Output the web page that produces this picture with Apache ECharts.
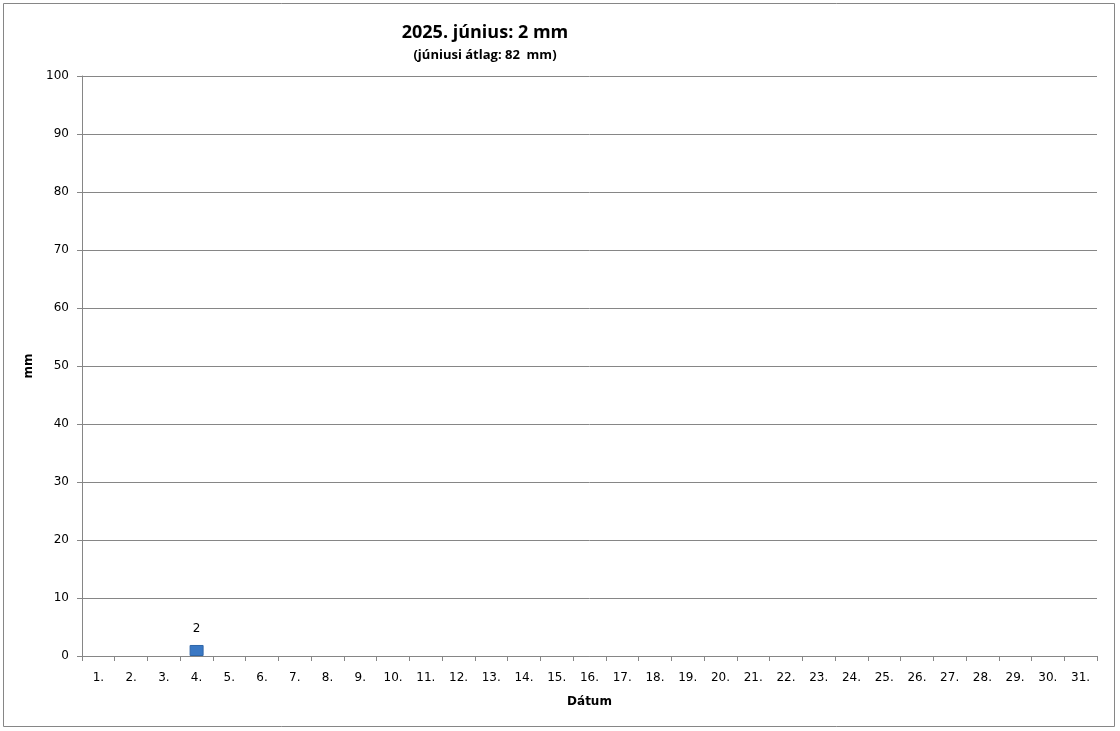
<!DOCTYPE html>
<html><head><meta charset="utf-8">
<script src="https://cdn.jsdelivr.net/npm/echarts@6/dist/echarts.min.js"></script>
<style>html,body{margin:0;padding:0;background:#fff}#c{width:1120px;height:731px}</style>
</head><body><div id="c"></div>
<script>
const categories = Array.from({length:31},(_, i)=> (i+1)+'.');
const rain = [null,null,null,1.9,null,null,null,null,null,null,null,null,null,null,null,null,null,null,null,null,null,null,null,null,null,null,null,null,null,null,null];
const titleText = '2025. június: 2 mm';
const subtitleText = '(júniusi átlag: 82  mm)';
const yTicks = {min:0, max:100, interval:10};

const chart = echarts.init(document.getElementById('c'));
chart.setOption({
  animation:false,
  title:{text:titleText, subtext:subtitleText, left:480, top:19, textAlign:'center', itemGap:7,
    textStyle:{fontFamily:'Open Sans', fontWeight:'bold', fontSize:18, color:'#000'},
    subtextStyle:{fontFamily:'Open Sans', fontWeight:'bold', fontSize:13, color:'#000'}},
  graphic:[{type:'rect', shape:{x:3.5,y:3.5,width:1111,height:723}, style:{fill:null, stroke:'#868686', lineWidth:1}, silent:true}],
  grid:{left:82, right:23, top:76, bottom:75},
  xAxis:{type:'category', data:categories, name:'Dátum', nameLocation:'middle', nameGap:40,
    nameTextStyle:{fontFamily:'DejaVu Sans', fontWeight:'bold', fontSize:12, color:'#000'},
    axisLine:{lineStyle:{color:'#868686'}}, axisTick:{show:true, length:5, lineStyle:{color:'#868686'}},
    axisLabel:{fontFamily:'DejaVu Sans', fontSize:12, color:'#000', margin:16, interval:0}},
  yAxis:{type:'value', min:yTicks.min, max:yTicks.max, interval:yTicks.interval, name:'mm', nameLocation:'middle', nameGap:44,
    nameTextStyle:{fontFamily:'DejaVu Sans', fontWeight:'bold', fontSize:12, color:'#000'},
    axisLine:{show:true, lineStyle:{color:'#868686'}}, axisTick:{show:true, length:5, lineStyle:{color:'#868686'}},
    splitLine:{lineStyle:{color:'#868686'}},
    axisLabel:{fontFamily:'DejaVu Sans', fontSize:12, color:'#000', margin:13}},
  series:[{type:'bar', data:rain, barWidth:14, itemStyle:{color:'#3a78c4', borderColor:'#2f66a8', borderWidth:1},
    label:{show:true, position:'top', distance:10, fontFamily:'DejaVu Sans', fontSize:12, color:'#000', formatter:p=>Math.round(p.value)}}]
});
</script></body></html>
